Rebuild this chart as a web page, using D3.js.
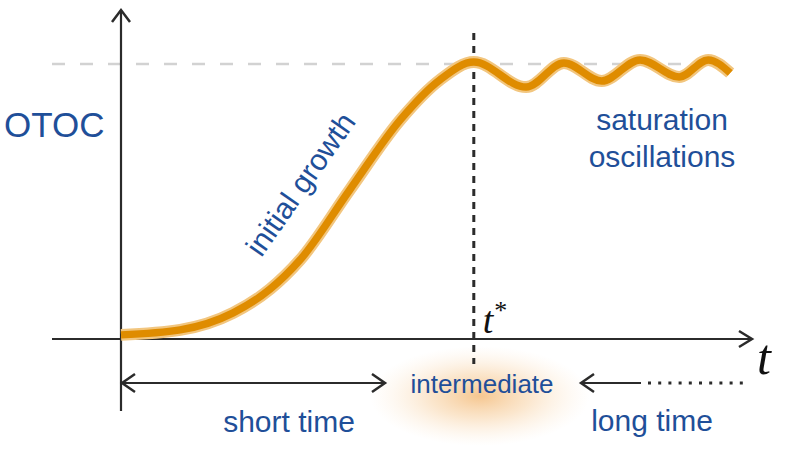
<!DOCTYPE html>
<html>
<head>
<meta charset="utf-8">
<script src="https://cdn.jsdelivr.net/npm/d3@7"></script>
<style>
  body { margin: 0; background: #fff; }
  svg { display: block; }
</style>
</head>
<body>
<svg id="chart" width="790" height="451"></svg>
<script>
// OTOC sketch: growth up to t*, then saturation oscillations

// time values (arbitrary units) and OTOC values (1 = saturation)
var tVals = [0, 0.94, 1.78, 2.37, 2.84, 3.63, 4.43, 5.06, 5.60,
  6.43, 7.03, 7.63, 8.24, 8.86, 9.32, 9.67]
var otocVals = [0.015, 0.033, 0.095, 0.182, 0.287, 0.542, 0.796, 0.942, 1.007,
  0.916, 1.004, 0.938, 1.015, 0.953, 1.015, 0.967]
var tStar = 5.6
var saturation = 1

var blue = '#1f4f99'
var ink = '#2b2b2b'

var svg = d3.select('#chart')

var x = d3.scaleLinear().domain([0, 10]).range([121, 751])
var y = d3.scaleLinear().domain([0, 1]).range([339, 64])

// orange glow behind "intermediate"
var defs = svg.append('defs')
var grad = defs.append('radialGradient').attr('id', 'glow')
grad.append('stop').attr('offset', '0%').attr('stop-color', '#f2b36a').attr('stop-opacity', 0.75)
grad.append('stop').attr('offset', '45%').attr('stop-color', '#f6c890').attr('stop-opacity', 0.45)
grad.append('stop').attr('offset', '100%').attr('stop-color', '#fbe3c6').attr('stop-opacity', 0)
svg.append('ellipse')
  .attr('cx', x(tStar) + 6).attr('cy', 396)
  .attr('rx', 110).attr('ry', 50)
  .style('fill', 'url(#glow)')

// saturation level
svg.append('line')
  .attr('x1', 52).attr('x2', 705)
  .attr('y1', y(saturation)).attr('y2', y(saturation))
  .style('stroke', '#d2d2d2').style('stroke-width', 2.5)
  .style('stroke-dasharray', '13,15')

// axes (drawn as arrows)
svg.append('line')
  .attr('x1', x(0)).attr('x2', x(0)).attr('y1', 411).attr('y2', 10)
  .style('stroke', ink).style('stroke-width', 2.2)
svg.append('path')
  .attr('d', 'M' + (x(0) - 9) + ',22 L' + x(0) + ',10 L' + (x(0) + 9) + ',22')
  .style('fill', 'none').style('stroke', ink).style('stroke-width', 2.5)

svg.append('line')
  .attr('x1', 52).attr('x2', 752).attr('y1', y(0)).attr('y2', y(0))
  .style('stroke', ink).style('stroke-width', 2.2)
svg.append('path')
  .attr('d', 'M739,' + (y(0) - 8) + ' L752,' + y(0) + ' L739,' + (y(0) + 8))
  .style('fill', 'none').style('stroke', ink).style('stroke-width', 2.5)

// t* marker
svg.append('line')
  .attr('x1', x(tStar)).attr('x2', x(tStar)).attr('y1', 33).attr('y2', 364)
  .style('stroke', ink).style('stroke-width', 3)
  .style('stroke-dasharray', '7,6')

// the OTOC curve
var line = d3.line()
  .x(function (d) { return x(d[0]) })
  .y(function (d) { return y(d[1]) })
  .curve(d3.curveMonotoneX)
var pts = d3.zip(tVals, otocVals)

svg.append('path').datum(pts).attr('d', line)
  .style('fill', 'none').style('stroke', '#f2c67f').style('stroke-width', 12)
svg.append('path').datum(pts).attr('d', line)
  .style('fill', 'none').style('stroke', '#df8c00').style('stroke-width', 7.5)

// time-range arrows
var ay = 383
svg.append('line').attr('x1', x(0)).attr('x2', 386).attr('y1', ay).attr('y2', ay)
  .style('stroke', ink).style('stroke-width', 2.2)
svg.append('path')
  .attr('d', 'M' + (x(0) + 14) + ',' + (ay - 9) + ' L' + (x(0) + 1) + ',' + ay + ' L' + (x(0) + 14) + ',' + (ay + 9))
  .style('fill', 'none').style('stroke', ink).style('stroke-width', 2.5)
svg.append('path')
  .attr('d', 'M372,' + (ay - 9) + ' L385,' + ay + ' L372,' + (ay + 9))
  .style('fill', 'none').style('stroke', ink).style('stroke-width', 2.5)

svg.append('line').attr('x1', 581).attr('x2', 641).attr('y1', ay).attr('y2', ay)
  .style('stroke', ink).style('stroke-width', 2.2)
svg.append('path')
  .attr('d', 'M594,' + (ay - 9) + ' L581,' + ay + ' L594,' + (ay + 9))
  .style('fill', 'none').style('stroke', ink).style('stroke-width', 2.5)
svg.append('line').attr('x1', 648).attr('x2', 747).attr('y1', ay).attr('y2', ay)
  .style('stroke', ink).style('stroke-width', 3)
  .style('stroke-dasharray', '3,7.2')

// labels
var sans = '"Liberation Sans", Arial, sans-serif'
function label(txt, lx, ly, size, anchor) {
  return svg.append('text')
    .attr('x', lx).attr('y', ly)
    .attr('text-anchor', anchor || 'middle')
    .style('font-family', sans).style('font-size', size + 'px')
    .style('fill', blue)
    .text(txt)
}
label('OTOC', 4, 137, 35, 'start')
label('saturation', 662, 130, 30)
label('oscillations', 662, 167, 30)
label('short time', 289, 432, 30)
label('long time', 652, 431, 30)
label('intermediate', 482, 393, 26)
label('initial growth', 0, 0, 30)
  .attr('transform', 'translate(309,190) rotate(-55)')

var serif = '"Liberation Serif", "DejaVu Serif", serif'
var ts = svg.append('text')
  .attr('x', x(tStar) + 9).attr('y', 333)
  .style('font-family', serif).style('font-style', 'italic')
  .style('font-size', '38px').style('fill', '#111')
ts.append('tspan').text('t')
ts.append('tspan').attr('dy', -14).attr('dx', 1).style('font-size', '26px').style('font-style', 'normal').text('*')

svg.append('text')
  .attr('x', 757).attr('y', 374)
  .style('font-family', serif).style('font-style', 'italic')
  .style('font-size', '50px').style('fill', '#111')
  .text('t')
</script>
</body>
</html>
